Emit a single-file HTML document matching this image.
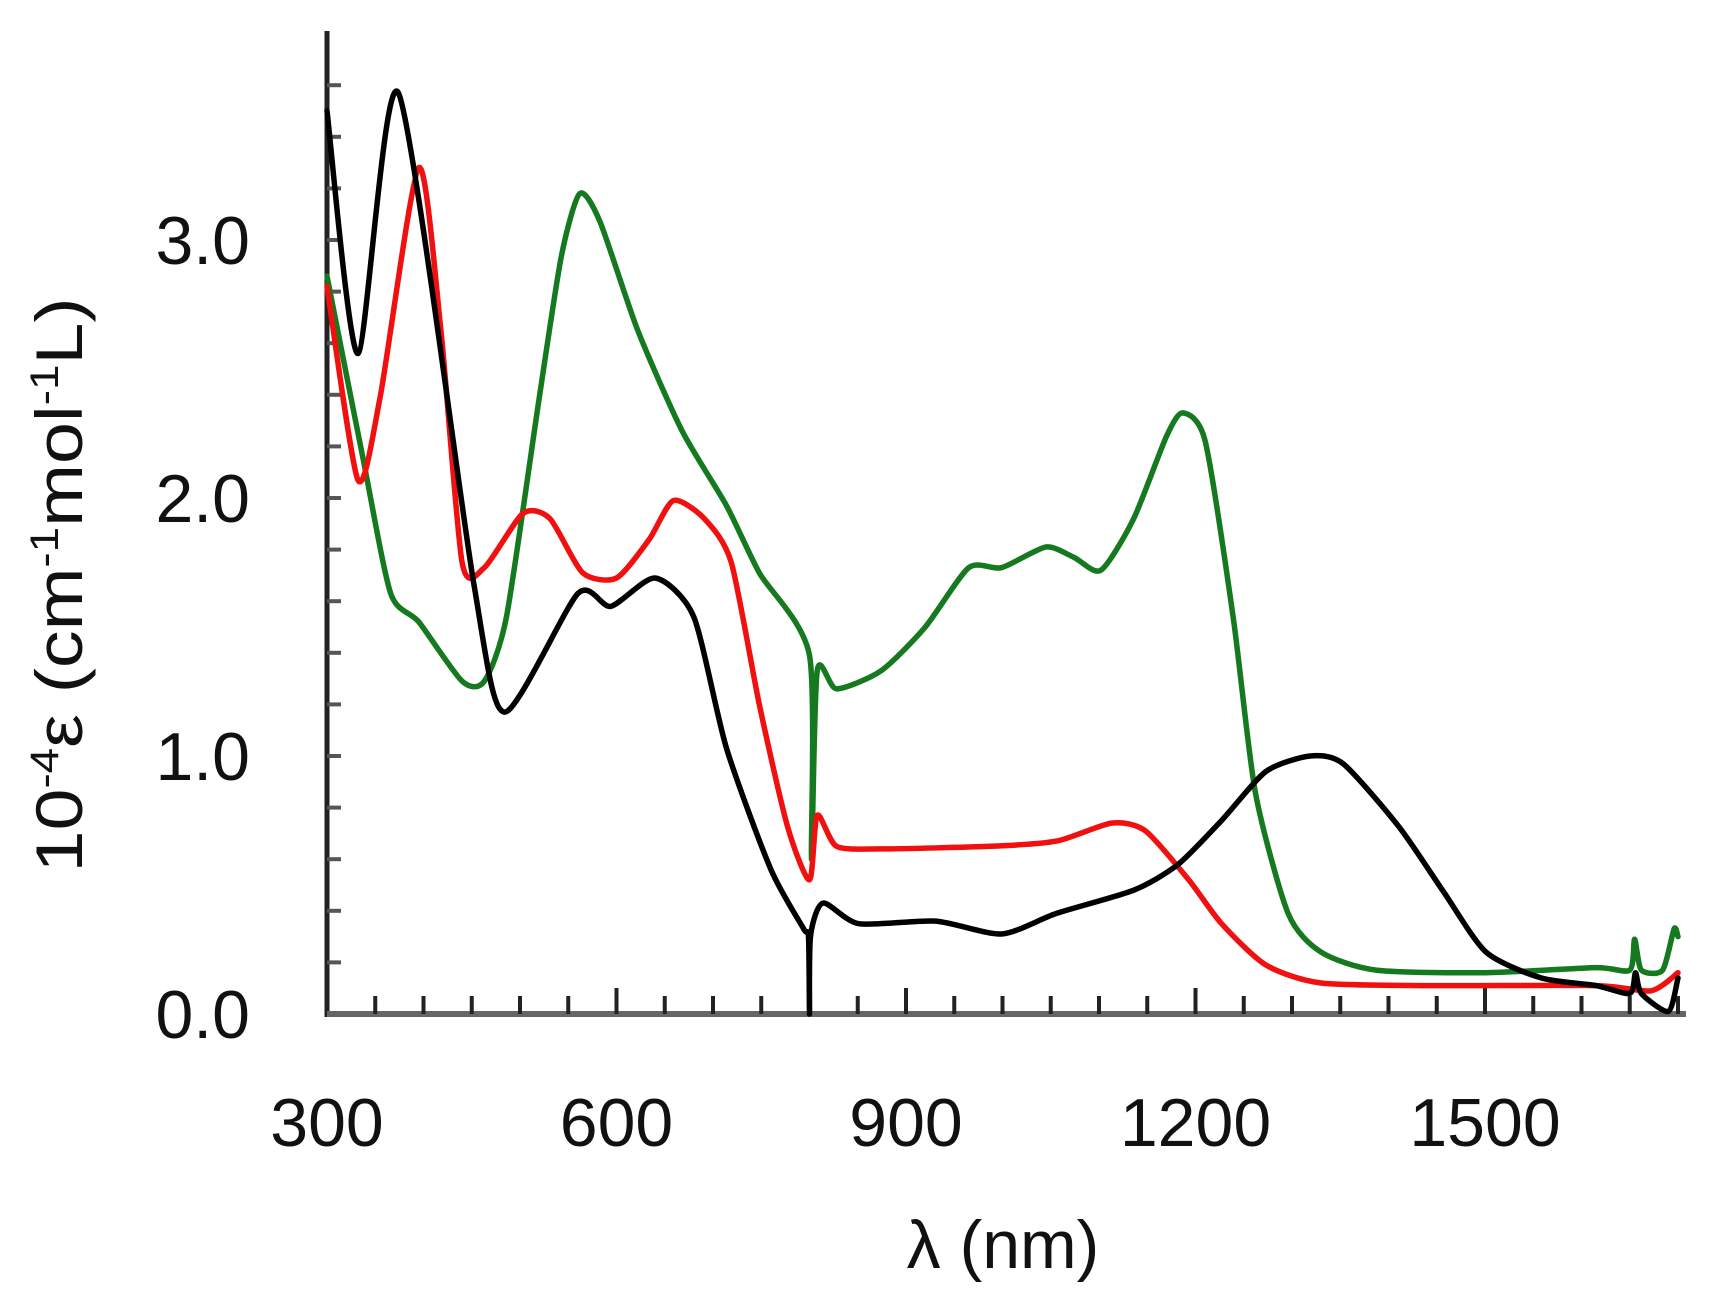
<!DOCTYPE html>
<html><head><meta charset="utf-8"><style>
html,body{margin:0;padding:0;background:#fff;}
svg{display:block;font-family:"Liberation Sans",Arial,sans-serif;}
</style></head><body>
<svg id="chart" width="1722" height="1312" viewBox="0 0 1722 1312" xmlns="http://www.w3.org/2000/svg">
<g id="axes"></g>
<g id="series"></g>
<text x="1003" y="1268" font-size="68" text-anchor="middle" fill="#111">λ (nm)</text>
<text transform="translate(82,585) rotate(-90)" font-size="66" text-anchor="middle" fill="#111" textLength="575" lengthAdjust="spacingAndGlyphs">10<tspan dy="-24" font-size="40">-4</tspan><tspan dy="24">ε (cm</tspan><tspan dy="-24" font-size="40">-1</tspan><tspan dy="24">mol</tspan><tspan dy="-24" font-size="40">-1</tspan><tspan dy="24">L)</tspan></text>
</svg>
<script>
const xTicks=[300,600,900,1200,1500];
const yTicks=[0,1,2,3];
const yTickLabels=["0.0","1.0","2.0","3.0"];
const blackX=[300,332,374,452,484,560,594,640,680,714,760,794,799,800,801,814,851,931,999,1056,1136,1182,1227,1273,1319,1353,1410,1456,1501,1558,1615,1650,1656,1662,1690,1700];
const blackY=[3.5,2.56,3.57,1.67,1.17,1.63,1.58,1.69,1.54,1.03,0.56,0.33,0.3,0.0,0.3,0.43,0.35,0.36,0.31,0.39,0.48,0.58,0.75,0.94,1.0,0.97,0.73,0.48,0.24,0.14,0.11,0.08,0.16,0.08,0.01,0.14];
const redX=[300,332,355,395,418,440,463,503,531,565,600,634,659,691,719,748,777,800,808,828,874,988,1056,1113,1148,1193,1227,1273,1330,1444,1615,1672,1700];
const redY=[2.82,2.07,2.39,3.28,2.65,1.75,1.73,1.94,1.92,1.71,1.69,1.84,1.99,1.92,1.75,1.2,0.73,0.52,0.77,0.65,0.64,0.65,0.67,0.74,0.71,0.52,0.35,0.19,0.12,0.11,0.11,0.09,0.16];
const greenX=[300,338,366,395,440,463,486,520,543,562,583,622,668,714,748,800,802,808,828,874,920,965,999,1045,1074,1102,1136,1170,1187,1210,1239,1262,1296,1330,1387,1501,1615,1650,1655,1662,1684,1696,1700];
const greenY=[2.86,2.14,1.63,1.52,1.29,1.29,1.54,2.39,2.94,3.18,3.07,2.65,2.26,1.97,1.71,1.39,0.6,1.33,1.26,1.33,1.5,1.73,1.73,1.81,1.77,1.72,1.92,2.24,2.33,2.22,1.54,0.86,0.39,0.24,0.17,0.16,0.18,0.17,0.29,0.17,0.17,0.33,0.3];
const X0=327,X1=1678,Y0=1014,PPU=258;
function xs(v){return X0+(v-300)/1400*(X1-X0);}
function ys(v){return Y0-v*PPU;}
const NS="http://www.w3.org/2000/svg";
const axes=document.getElementById('axes');
const ser=document.getElementById('series');
function mk(tag,attrs,parent){const e=document.createElementNS(NS,tag);for(const k in attrs)e.setAttribute(k,attrs[k]);parent.appendChild(e);return e;}
let yl=mk('line',{x1:X0,y1:31,x2:X0,y2:Y0+3,stroke:'#222','stroke-width':5},axes);


let xl=mk('line',{x1:X0,y1:Y0,x2:X1+8,y2:Y0,stroke:'#666','stroke-width':6},axes);


for(let v=350;v<=1700;v+=50){
  const major=(v%300===0);
  let t=mk('line',{x1:xs(v),y1:Y0,x2:xs(v),y2:Y0-(major?26:18),stroke:'#222','stroke-width':4},axes);
  
  
}
for(let v=0.2;v<3.75;v+=0.2){
  let t=mk('line',{x1:X0,y1:ys(v),x2:X0+14,y2:ys(v),stroke:'#555','stroke-width':4},axes);
  
  
}
xTicks.forEach(v=>{
  let t=mk('text',{x:xs(v),y:1146,'font-size':68,'text-anchor':'middle',fill:'#111'},axes);
  t.textContent=String(v);
  
  
});
yTicks.forEach((v,i)=>{
  let t=mk('text',{x:250,y:ys(v)+24,'font-size':68,'text-anchor':'end',fill:'#111'},axes);
  t.textContent=yTickLabels[i];
  
  
});
function line(xa,ya,color,name){
  const P=xa.map((x,i)=>[xs(x),ys(ya[i])]);
  let d='M'+P[0][0].toFixed(1)+','+P[0][1].toFixed(1);
  const k=0.12;
  for(let i=0;i<P.length-1;i++){
    const p0=P[Math.max(0,i-1)],p1=P[i],p2=P[i+1],p3=P[Math.min(P.length-1,i+2)];
    const c1=[p1[0]+(p2[0]-p0[0])*k,p1[1]+(p2[1]-p0[1])*k];
    const c2=[p2[0]-(p3[0]-p1[0])*k,p2[1]-(p3[1]-p1[1])*k];
    d+=' C'+c1[0].toFixed(1)+','+c1[1].toFixed(1)+' '+c2[0].toFixed(1)+','+c2[1].toFixed(1)+' '+p2[0].toFixed(1)+','+p2[1].toFixed(1);
  }
  let p=mk('path',{d:d,fill:'none',stroke:color,'stroke-width':5.5,'stroke-linejoin':'round','stroke-linecap':'round'},ser);
  
  
}
line(greenX,greenY,'#157a1f','green-series');
line(redX,redY,'#f01010','red-series');
line(blackX,blackY,'#000','black-series');
</script>
</body></html>
